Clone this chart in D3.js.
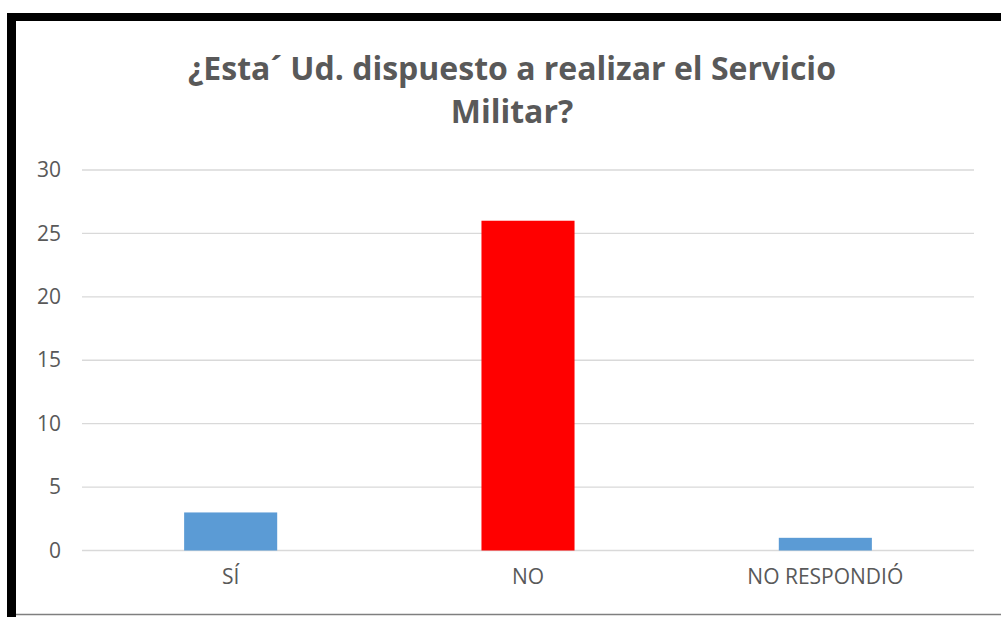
<!DOCTYPE html>
<html>
<head>
<meta charset="utf-8">
<script src="https://cdn.jsdelivr.net/npm/d3@7"></script>
<style>
  html, body { margin:0; padding:0; background:#fff; }
  svg { display:block; }
</style>
</head>
<body>
<div id="chart"></div>
<script>
const categories = ["SÍ", "NO", "NO RESPONDIÓ"];
const values = [3, 26, 1];
const barColors = ["#5B9BD5", "#FF0000", "#5B9BD5"];
const yTicks = [0, 5, 10, 15, 20, 25, 30];
const titleLines = ["¿Esta´ Ud. dispuesto a realizar el Servicio", "Militar?"];

const width = 1001, height = 617;
const margin = { top:170, right:27, bottom:67, left:82 };
const svg = d3.select('#chart').append('svg').attr('width', width).attr('height', height);

// frame: thick black on top and left, thin grey at bottom
svg.append('rect').attr('x',0).attr('y',0).attr('width',width).attr('height',height).attr('fill','#fff');
svg.append('rect').attr('x',7).attr('y',13).attr('width',width-7).attr('height',8).attr('fill','#000');
svg.append('rect').attr('x',7).attr('y',13).attr('width',9).attr('height',height-13).attr('fill','#000');
svg.append('line').attr('x1',16).attr('x2',width).attr('y1',614.5).attr('y2',614.5).attr('stroke','#7f7f7f').attr('stroke-width',1.5);

const x = d3.scaleBand().domain(categories).range([margin.left, width - margin.right]).paddingInner(0.687).paddingOuter(0.3435);
const y = d3.scaleLinear().domain([0, 30]).range([height - margin.bottom + 0.5, margin.top]);

// grid
svg.append('g').selectAll('line').data(yTicks).enter().append('line')
   .attr('x1', margin.left).attr('x2', width - margin.right)
   .attr('y1', d=>y(d)).attr('y2', d=>y(d))
   .attr('stroke','#d9d9d9').attr('stroke-width',1.3);

const tickFont = '"Open Sans", sans-serif';

// y axis labels
const ya = svg.append('g').attr('transform',`translate(${margin.left},0)`)
   .call(d3.axisLeft(y).tickValues(yTicks).tickSize(0).tickPadding(21));
ya.select('.domain').remove();
ya.selectAll('text').style('font-family',tickFont).style('font-size','21px').attr('fill','#595959');

// bars
svg.append('g').selectAll('rect').data(values).enter().append('rect')
   .attr('x', (d,i)=>x(categories[i])).attr('y', d=>y(d))
   .attr('width', x.bandwidth()).attr('height', d=>y(0)-y(d))
   .attr('fill', (d,i)=>barColors[i]);

// x axis labels
const xa = svg.append('g').attr('transform',`translate(0,${y(0)})`)
   .call(d3.axisBottom(x).tickSize(0).tickPadding(19));
xa.select('.domain').remove();
xa.selectAll('text').style('font-family',tickFont).style('font-size','21px').attr('fill','#595959');

// title
svg.append('g').selectAll('text').data(titleLines).enter().append('text')
   .attr('x', 512).attr('y', (d,i)=>80 + i*43)
   .attr('text-anchor','middle')
   .style('font-family','"Open Sans", sans-serif').style('font-weight','bold').style('font-size','32px')
   .attr('fill','#595959').text(d=>d);
</script>
</body>
</html>
